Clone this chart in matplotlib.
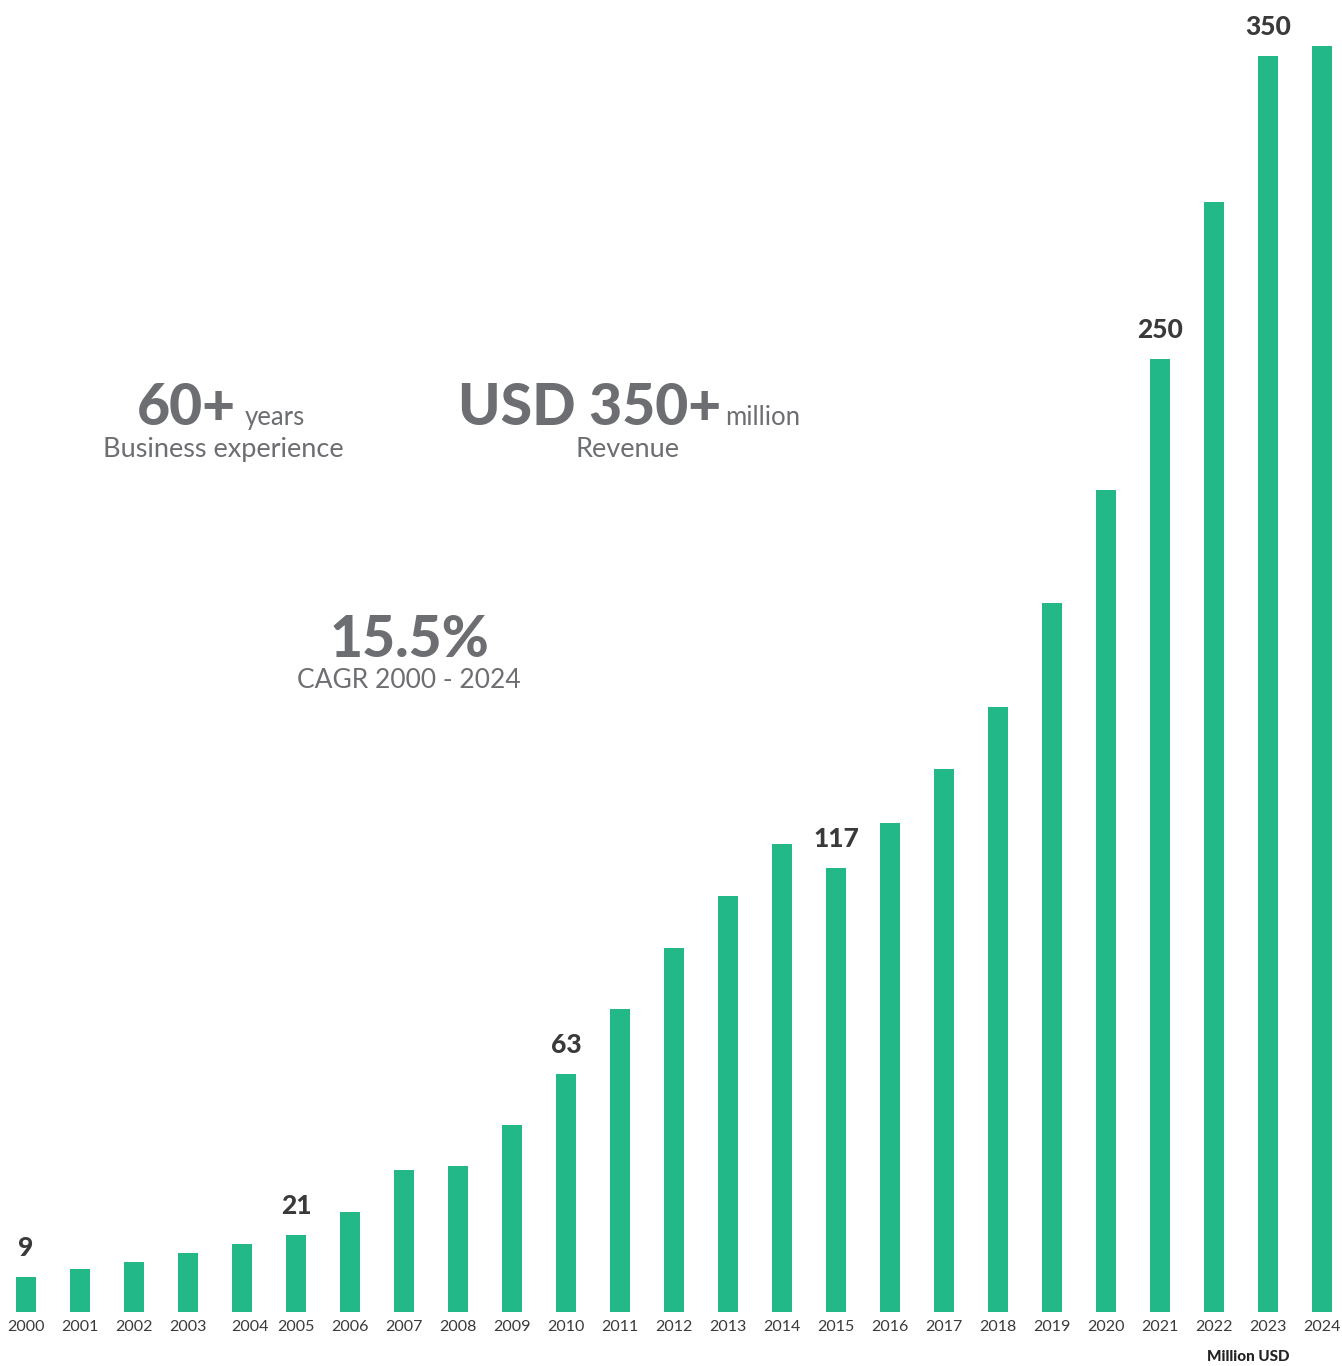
import matplotlib.pyplot as plt
import matplotlib.transforms as mtransforms

years = list(range(2000, 2025))
# bar heights (scaled so 2023 = 350)
revenue = [9.75, 12.0, 13.9, 16.4, 18.9, 21.5, 27.9, 39.6, 40.7, 52.1,
           66.3, 84.4, 101.4, 115.9, 130.4, 123.7, 136.3, 151.3, 168.6, 197.6,
           229.1, 265.6, 309.3, 350.0, 352.8]
# the printed labels above selected bars
label_years = [2000, 2005, 2010, 2015, 2021, 2023]
label_text = ["9", "21", "63", "117", "250", "350"]

green = "#23b887"
grey = "#6d6e71"
dark = "#3a3a3a"
plt.rcParams['font.family'] = ['Lato', 'DejaVu Sans']

W, H = 1342, 1366
fig = plt.figure(figsize=(W / 100, H / 100), dpi=100)
ax = fig.add_axes([0, 54 / H, 1, 1312 / H])

pos = list(range(len(years)))
ax.bar(pos, revenue, width=0.37, color=green)
ax.set_xlim(-26 / 54, (W - 26) / 54)
ax.set_ylim(0, 1312 / 3.5886)

ax.set_xticks(pos)
ax.set_xticklabels([str(y) for y in years], fontsize=11.5, color=dark)
ax.tick_params(axis='x', length=0, pad=6)
ax.set_yticks([])
for s in ax.spines.values():
    s.set_visible(False)

# the 2004 label sits a bit to the right in the original
lbl = ax.get_xticklabels()[years.index(2004)]
lbl.set_transform(lbl.get_transform() + mtransforms.ScaledTranslation(8 / 100, 0, fig.dpi_scale_trans))

for yr, txt in zip(label_years, label_text):
    i = years.index(yr)
    ax.annotate(txt, (i, revenue[i]), xytext=(0, 12), textcoords='offset points',
                ha='center', va='bottom', fontsize=19, fontweight='black', color=dark)

fig.text(1248 / W, 1 - 1357 / H, "Million USD", ha='center', va='center',
         fontsize=11, fontweight='black', color='#222222')


def px(x, y):
    return x / W, 1 - y / H


fig.text(*px(137, 425), "60+", fontsize=41, fontweight='black', color=grey, va='baseline')
fig.text(*px(245, 425), "years", fontsize=18.5, color=grey, va='baseline')
fig.text(*px(223, 457), "Business experience", fontsize=19.5, color=grey, va='baseline', ha='center')

fig.text(*px(458, 425), "USD 350+", fontsize=41, fontweight='black', color=grey, va='baseline')
fig.text(*px(725, 425), "million", fontsize=18.5, color=grey, va='baseline')
fig.text(*px(628, 457), "Revenue", fontsize=19.5, color=grey, va='baseline', ha='center')

fig.text(*px(410, 657), "15.5%", fontsize=41, fontweight='black', color=grey, va='baseline', ha='center')
fig.text(*px(409, 688), "CAGR 2000 - 2024", fontsize=19, color=grey, va='baseline', ha='center')

fig.savefig("out.png", dpi=100, facecolor='white')
